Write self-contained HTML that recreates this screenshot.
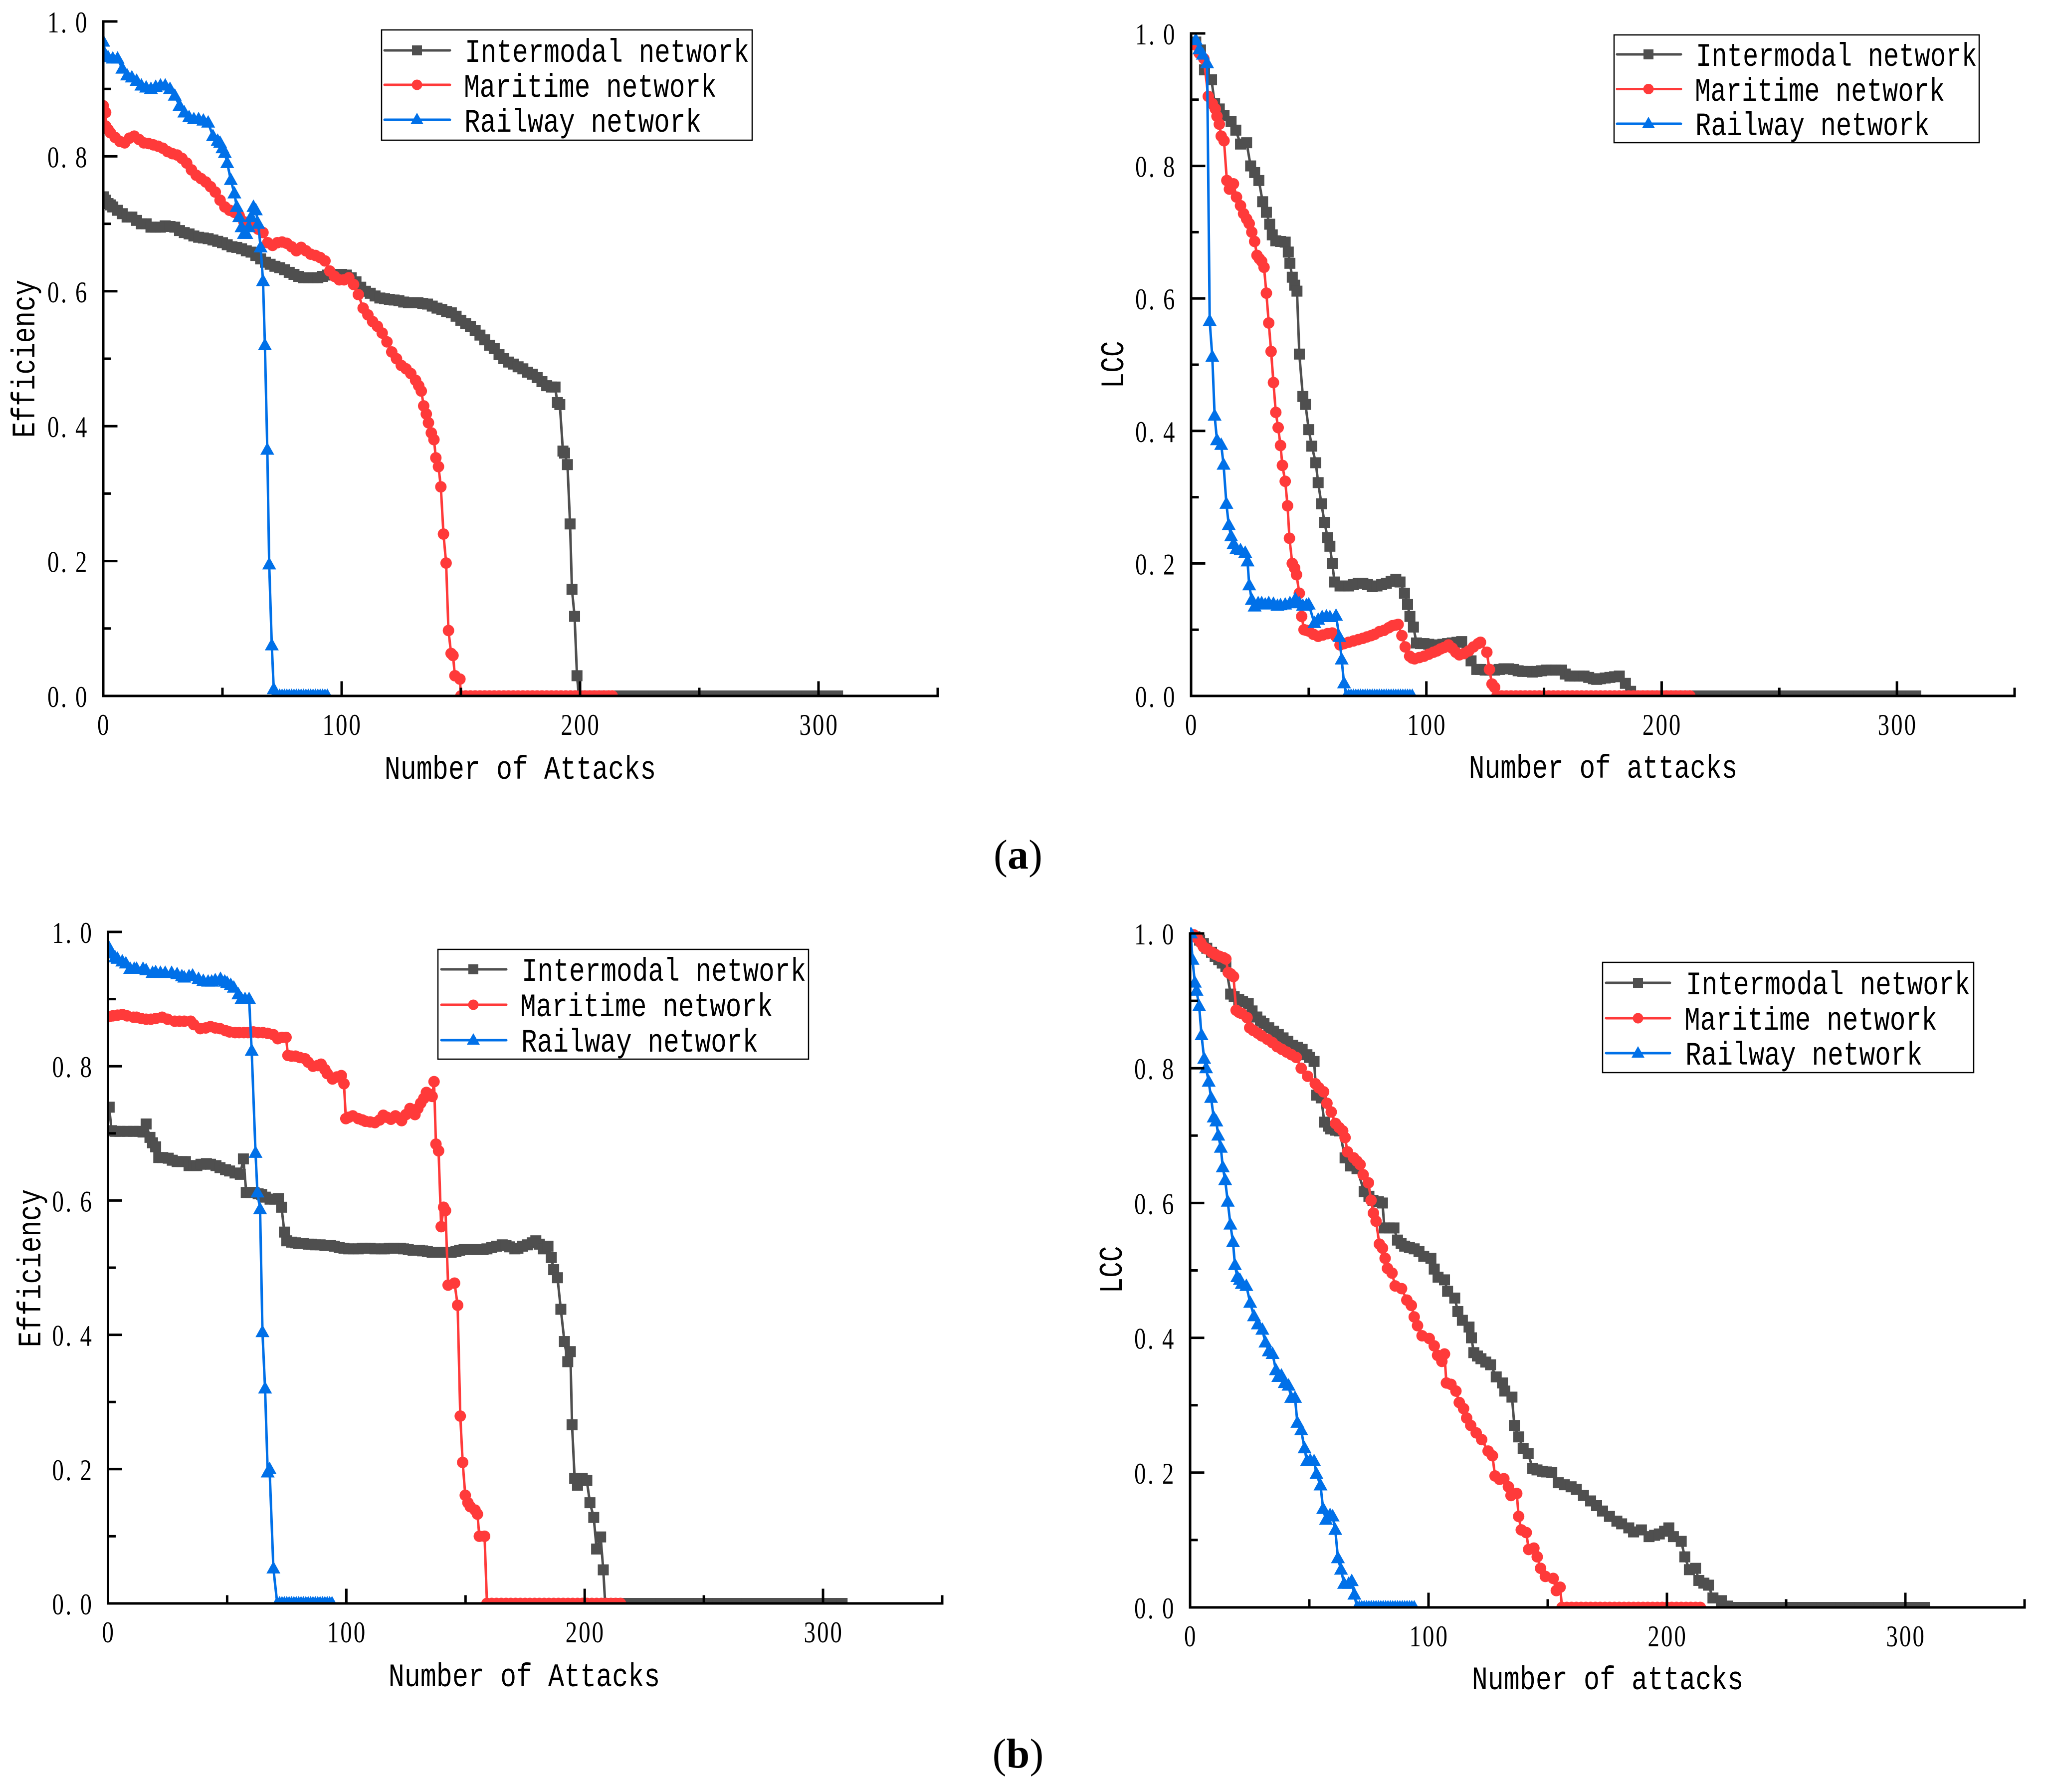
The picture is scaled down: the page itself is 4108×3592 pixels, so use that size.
<!DOCTYPE html>
<html lang="en">
<head>
<meta charset="utf-8">
<title>Network robustness under attack</title>
<style>
html,body{margin:0;padding:0;background:#fff;}
svg{display:block;}
.mono{font-family:"Liberation Mono",monospace;font-size:60px;fill:#000;}
.serif{font-family:"Liberation Serif",serif;font-size:60px;fill:#000;}
.cap{font-family:"Liberation Serif",serif;font-size:84px;fill:#000;}
</style>
</head>
<body>
<svg id="figure" xmlns="http://www.w3.org/2000/svg" width="4108" height="3592" viewBox="0 0 4108 3592">
<rect x="0" y="0" width="4108" height="3592" fill="#fff"/>

<g id="panel-a1">
<text class="mono" text-anchor="middle" transform="translate(1043,1561) scale(.89,1.1)">Number of Attacks</text>
<text class="mono" text-anchor="middle" transform="translate(69,719) rotate(-90) scale(.88,1.1)">Efficiency</text>
</g>
<g id="panel-a2">
<text class="mono" text-anchor="middle" transform="translate(3214,1559) scale(.88,1.1)">Number of attacks</text>
<text class="mono" text-anchor="middle" transform="translate(2252,731) rotate(-90) scale(.88,1.1)">LCC</text>
</g>
<g id="panel-b1">
<text class="mono" text-anchor="middle" transform="translate(1051,3380) scale(.89,1.1)">Number of Attacks</text>
<text class="mono" text-anchor="middle" transform="translate(81,2542) rotate(-90) scale(.88,1.1)">Efficiency</text>
</g>
<g id="panel-b2">
<text class="mono" text-anchor="middle" transform="translate(3223,3386) scale(.89,1.1)">Number of attacks</text>
<text class="mono" text-anchor="middle" transform="translate(2249,2545) rotate(-90) scale(.88,1.1)">LCC</text>
</g>

<!-- Legend A-left -->
<g>
<rect x="765" y="60" width="743" height="221" fill="#fff" stroke="#000" stroke-width="2.5"/>
<g><line x1="771" y1="101" x2="902" y2="101" stroke="#4f4f4f" stroke-width="5" stroke-linecap="round"/><rect x="826" y="91" width="20" height="20" fill="#4f4f4f"/><text class="mono" transform="translate(932,124) scale(.88,1.1)">Intermodal network</text></g>
<g><line x1="771" y1="170" x2="902" y2="170" stroke="#ff3a3a" stroke-width="5" stroke-linecap="round"/><circle cx="836" cy="170" r="10.5" fill="#ff3a3a"/><text class="mono" transform="translate(930,194) scale(.88,1.1)">Maritime network</text></g>
<g><line x1="771" y1="240" x2="902" y2="240" stroke="#0070e8" stroke-width="5" stroke-linecap="round"/><polygon points="836,226 849,249 823,249" fill="#0070e8"/><text class="mono" transform="translate(931,264) scale(.88,1.1)">Railway network</text></g>
</g>
<!-- Legend A-right -->
<g>
<rect x="3236" y="70" width="732" height="216" fill="#fff" stroke="#000" stroke-width="2.5"/>
<g><line x1="3242" y1="109" x2="3370" y2="109" stroke="#4f4f4f" stroke-width="5" stroke-linecap="round"/><rect x="3295" y="99" width="20" height="20" fill="#4f4f4f"/><text class="mono" transform="translate(3400,132) scale(.87,1.1)">Intermodal network</text></g>
<g><line x1="3242" y1="178.500" x2="3370" y2="178.500" stroke="#ff3a3a" stroke-width="5" stroke-linecap="round"/><circle cx="3305" cy="178.500" r="10.5" fill="#ff3a3a"/><text class="mono" transform="translate(3398,202) scale(.87,1.1)">Maritime network</text></g>
<g><line x1="3242" y1="248" x2="3370" y2="248" stroke="#0070e8" stroke-width="5" stroke-linecap="round"/><polygon points="3305,234 3318,257 3292,257" fill="#0070e8"/><text class="mono" transform="translate(3399,271) scale(.87,1.1)">Railway network</text></g>
</g>
<!-- Legend B-left -->
<g>
<rect x="878" y="1903" width="743" height="220" fill="#fff" stroke="#000" stroke-width="2.5"/>
<g><line x1="885" y1="1943" x2="1015" y2="1943" stroke="#4f4f4f" stroke-width="5" stroke-linecap="round"/><rect x="939" y="1933" width="20" height="20" fill="#4f4f4f"/><text class="mono" transform="translate(1046,1966) scale(.88,1.1)">Intermodal network</text></g>
<g><line x1="885" y1="2014" x2="1015" y2="2014" stroke="#ff3a3a" stroke-width="5" stroke-linecap="round"/><circle cx="949" cy="2014" r="10.5" fill="#ff3a3a"/><text class="mono" transform="translate(1043,2037) scale(.88,1.1)">Maritime network</text></g>
<g><line x1="885" y1="2085" x2="1015" y2="2085" stroke="#0070e8" stroke-width="5" stroke-linecap="round"/><polygon points="949,2071 962,2094 936,2094" fill="#0070e8"/><text class="mono" transform="translate(1045,2108) scale(.88,1.1)">Railway network</text></g>
</g>
<!-- Legend B-right -->
<g>
<rect x="3213" y="1929" width="744" height="221" fill="#fff" stroke="#000" stroke-width="2.5"/>
<g><line x1="3220" y1="1970" x2="3348" y2="1970" stroke="#4f4f4f" stroke-width="5" stroke-linecap="round"/><rect x="3274" y="1960" width="20" height="20" fill="#4f4f4f"/><text class="mono" transform="translate(3380,1993) scale(.88,1.1)">Intermodal network</text></g>
<g><line x1="3220" y1="2041" x2="3348" y2="2041" stroke="#ff3a3a" stroke-width="5" stroke-linecap="round"/><circle cx="3284" cy="2041" r="10.5" fill="#ff3a3a"/><text class="mono" transform="translate(3377,2064) scale(.88,1.1)">Maritime network</text></g>
<g><line x1="3220" y1="2111" x2="3348" y2="2111" stroke="#0070e8" stroke-width="5" stroke-linecap="round"/><polygon points="3284,2097 3297,2120 3271,2120" fill="#0070e8"/><text class="mono" transform="translate(3379,2134) scale(.88,1.1)">Railway network</text></g>
</g>

<text class="cap" text-anchor="middle" x="2041" y="1741">(<tspan font-weight="bold">a</tspan>)</text>
<text class="cap" text-anchor="middle" x="2041" y="3543">(<tspan font-weight="bold">b</tspan>)</text>
</svg>

<script>
// Axis tick values
const xMajorTicks = [0, 100, 200, 300];
const xMinorTicks = [50, 150, 250, 350];
const yMajorTicks = [0, 0.2, 0.4, 0.6, 0.8, 1.0];
const yMinorTicks = [0.1, 0.3, 0.5, 0.7, 0.9];

// Panel (a) Efficiency
const a1IntermodalX = [0,1,2,3,4,6,8,10,12,14,
16,18,20,22,24,26,28,30,32,34,
36,38,40,42,44,46,48,50,52,54,
56,58,60,62,64,66,68,70,72,74,
76,78,80,82,84,86,88,90,92,94,
96,98,100,102,104,106,108,110,112,114,
116,118,120,122,124,126,128,130,132,134,
136,138,140,142,144,146,148,150,152,154,
156,158,160,162,164,166,168,170,172,174,
176,178,180,182,184,186,188,189.5,190.5,191.5,
192.8,193.5,194.7,195.8,196.6,197.7,198.7,199.5];
const a1IntermodalY = [.74,.735,.73,.728,.725,.72,.715,.71,.71,.705,
.70,.70,.695,.695,.695,.697,.696,.695,.69,.687,
.685,.682,.68,.679,.678,.676,.674,.672,.669,.666,
.665,.663,.66,.658,.653,.648,.643,.64,.637,.635,
.632,.628,.625,.622,.62,.62,.62,.62,.622,.624,
.625,.625,.625,.624,.62,.614,.606,.60,.597,.593,
.59,.589,.588,.587,.586,.584,.583,.583,.583,.582,
.581,.578,.575,.573,.57,.568,.563,.557,.552,.548,
.542,.535,.528,.52,.515,.506,.50,.495,.492,.488,
.485,.48,.477,.472,.466,.46,.458,.458,.435,.432,
.363,.36,.343,.255,.158,.118,.03,0];
const a1IntermodalZeroX = [203,207,211,215,219,223,227,231,235,239,243,247,251,255,259,263,267,271,275,279,283,287,291,295,299,303,306,308];

const a1MaritimeX = [0,1,1,2,3,5,7,9,11,13,
15,17,19,21,23,25,27,29,31,33,
35,37,39,41,43,45,47,49,51,53,
55,57,59,61,63,65,67,69,71,73,
75,77,79,81,83,85,87,89,91,93,
95,97,99,101,103,105,107,109,111,113,
115,117,119,121,123,125,127,129,131,132.3,
133.4,134.4,135.5,136.4,137.6,138.7,139.5,140.6,141.6,142.7,
143.8,144.8,145.9,146.7,147.5,149.6];
const a1MaritimeY = [.875,.865,.845,.84,.835,.828,.822,.82,.827,.83,
.825,.82,.819,.817,.815,.812,.807,.804,.802,.797,
.79,.78,.772,.767,.762,.755,.747,.735,.725,.72,
.717,.712,.703,.70,.697,.692,.687,.672,.668,.672,
.673,.671,.666,.66,.665,.66,.655,.653,.65,.645,
.63,.622,.617,.617,.62,.61,.595,.575,.565,.555,
.548,.538,.525,.51,.50,.49,.485,.478,.468,.46,
.452,.43,.418,.405,.39,.38,.353,.34,.31,.24,
.197,.097,.063,.06,.03,.025];
const a1MaritimeZeroX = [150,152,154,156,158,160,162,164,166,168,170,172,174,176,178,180,182,184,186,188,190,192,194,196,198,200,202,204,206,208,210,212,213.5];

const a1RailwayX = [0,1,2,4,6,8,10,12,14,16,
18,20,22,24,26,28,30,32,34,36,
38,40,42,44,46,48,49,50,51,52,
53.5,55,56,57,58,59,60,61,62,63,
64,65,66,67,67.8,68.8,69.6,70.7,71.5];
const a1RailwayY = [.97,.95,.947,.945,.945,.93,.92,.917,.912,.905,
.902,.90,.903,.905,.905,.90,.89,.875,.865,.858,
.855,.855,.853,.85,.83,.823,.82,.812,.805,.79,
.765,.745,.725,.71,.695,.685,.685,.695,.71,.725,
.72,.70,.665,.615,.52,.365,.195,.075,.01];
const a1RailwayZeroX = [72,73,74,75,76,77,78,79,80,81,82,83,84,85,86,87,88,89,90,91,92,93,94];

// Panel (a) LCC
const a2IntermodalX = [2,4,5.7,8.7,10,12,14,17,19,21,
23.6,25.3,27,28.8,30.4,32,33.4,34.5,36,38,
40,41.3,42,43,44,45,46,47.5,48.6,50,
51.3,53,54,55.4,56.7,58,59,60,61,
63.3,65,67,69,71,73,75,77,79,81,
83,85,87,88.8,90.7,92,93,94.5,95.8,97.5,
99,101,103,105,107,109,111,113,115,117.3,
119,121.4,123,125,127,129,131,133,135,137,
139,141,143,145,147,149,151,153,155,157.5,
159,161,163,165,167,169,171,172.4,174,176,
178,180,182,184.6,186.8];
const a2IntermodalY = [.987,.975,.945,.93,.894,.886,.876,.867,.854,.833,
.835,.80,.79,.778,.746,.73,.712,.696,.687,.686,
.685,.67,.653,.632,.62,.611,.516,.452,.44,.402,
.377,.352,.322,.29,.262,.239,.226,.20,.172,
.166,.166,.166,.168,.17,.17,.168,.165,.166,.168,
.17,.173,.176,.172,.155,.138,.12,.104,.08,.079,
.079,.078,.077,.077,.078,.079,.08,.081,.082,.066,
.053,.04,.04,.039,.039,.039,.04,.041,.041,.04,
.038,.037,.037,.036,.037,.038,.039,.039,.039,.039,
.033,.03,.03,.03,.03,.028,.026,.025,.026,.027,
.028,.029,.03,.019,.007];
const a2IntermodalZeroX = [188,192,196,200,204,208,212,216,220,224,228,232,236,240,244,248,252,256,260,264,268,272,276,280,284,288,292,296,300,304,306,308];

const a2MaritimeX = [1.4,3.5,5.4,7.3,9,10.3,11,12,12.8,14,
15.2,16.3,18,19.3,21,22.3,23.6,24.7,25.8,27,
28,29,30,31,32,33,34,35,36,37,
38,38.8,40,41,41.8,43,44,44.8,46,47,
48,49,50,52,54,56,58,60,61.5,63.3,
65,67,69,71,73,74.7,76.5,78,80,82,
84,85.5,87,88,89.6,91,92.9,94,95,97,
99,101,103,104.5,106,107.5,109.4,111,112.5,114,
116,118,120,122,123,125.7,126.8,127.9,129];
const a2MaritimeY = [.983,.97,.962,.905,.894,.886,.875,.863,.845,.838,
.778,.765,.773,.753,.74,.728,.72,.713,.70,.686,
.665,.66,.656,.647,.608,.563,.52,.473,.428,.405,
.378,.348,.324,.287,.238,.20,.193,.183,.155,.12,
.10,.099,.098,.093,.09,.092,.094,.095,.09,.077,
.079,.081,.083,.085,.087,.089,.091,.093,.097,.099,
.103,.106,.107,.108,.091,.074,.06,.057,.056,.058,
.06,.063,.066,.068,.071,.073,.077,.072,.066,.062,
.064,.068,.074,.079,.081,.066,.04,.018,.013];
const a2MaritimeZeroX = [130,132,134,136,138,140,142,144,146,148,150,152,154,156,158,160,162,164,166,168,170,172,174,176,178,180,182,184,186,188,190,192,194,196,198,200,202,204,206,208,210,212];

const a2RailwayX = [2,3.5,5,6.8,7.9,9,10,11,12.8,13.8,
15,16,17,18,19.3,21,23,24,24.7,25.8,
27,28.5,30,31.5,33,35,36.7,38,40,42,
44.3,46,47.5,49,50,52.4,54,55.7,57.5,59,
61.6,63,64,65];
const a2RailwayY = [.99,.976,.968,.955,.566,.512,.423,.386,.379,.349,
.29,.258,.241,.229,.222,.22,.216,.203,.167,.145,
.135,.14,.14,.138,.14,.139,.136,.137,.138,.14,
.146,.14,.136,.137,.138,.11,.115,.119,.12,.119,
.121,.089,.055,.019];
const a2RailwayZeroX = [66,67,68,69,70,71,72,73,74,75,76,77,78,79,80,81,82,83,84,85,86,87,88,89,90,91,92,93,94];

// Panel (b) Efficiency
const b1IntermodalX = [.5,1.5,3,5,8,10.7,13,14.7,16,17.6,
18.7,20,21.3,23,25.3,27,29,31,32.5,34,
36,37.3,39,41.3,43,45.3,47,49.3,51,53.3,
55.5,56.8,58,60,61.3,63,64.5,66,68,70,
71.5,72.8,74,75,77,78.7,80,82,84,85.4,
87,89,91,93.4,95,97,99,101,103,105,
106.7,108,110,112,114.7,116,118,120,122.7,124,
126,128,130.7,132,134,136,138.7,140,142,144,
146,147.5,149.4,151,153,155,157.4,159,161,163,
165.4,167,168.5,170.7,172,174,176,178,179.5,181,
182.7,184.6,186,187,188.6,190,191.5,192.9,194,194.7,
195.8,197,199,200.9,202.2,203.8,205,206.7,207.8];
const b1IntermodalY = [.739,.704,.703,.703,.703,.703,.703,.702,.714,.694,
.686,.68,.664,.664,.663,.66,.658,.658,.658,.652,
.652,.652,.654,.655,.654,.652,.649,.646,.644,.641,
.639,.662,.612,.612,.612,.61,.609,.605,.602,.602,
.603,.59,.553,.54,.538,.537,.536,.536,.535,.535,
.534,.534,.533,.533,.532,.53,.529,.528,.528,.528,
.529,.529,.529,.528,.528,.528,.529,.529,.529,.528,
.527,.526,.526,.525,.524,.523,.523,.523,.523,.523,
.524,.526,.527,.527,.527,.527,.527,.528,.53,.532,
.534,.533,.531,.528,.529,.532,.534,.537,.54,.535,
.528,.532,.515,.497,.485,.438,.39,.36,.375,.266,
.186,.176,.186,.183,.15,.128,.081,.099,.05];
const b1IntermodalZeroX = [208.6,212,216,220,224,228,232,236,240,244,248,252,256,260,264,268,272,276,280,284,288,292,296,300,304,306,308];

const b1MaritimeX = [.5,2,4,6,8,10.7,12,14,16,18,
20,22.7,25,28,30,32,34.7,36,38.7,41,
43,45,47,49.3,51,53.3,55,57,58.7,61,
63,65,67,69.4,71.2,73,74.7,75.5,77,78.7,
80.5,82.7,84,86,88,89.4,91,92,94.2,96,
97.9,99,99.8,101,102.7,105,106.7,108,110,112,
114,115.5,117,118.7,120.6,122,123.2,125,126.7,128.8,
130,131.2,132.5,133.6,135,136,136.8,137.6,138.7,139.8,
140.8,141.6,142.7,145.4,146.7,147.8,148.8,149.9,151,152,
154,155,155.8,158];
const b1MaritimeY = [.874,.875,.876,.877,.875,.873,.873,.871,.87,.87,
.871,.873,.87,.867,.867,.867,.867,.862,.856,.857,
.859,.857,.856,.853,.851,.85,.85,.85,.85,.851,
.85,.85,.849,.847,.841,.843,.843,.816,.815,.815,
.813,.811,.806,.80,.801,.803,.795,.789,.781,.784,
.786,.774,.722,.724,.726,.722,.72,.718,.717,.716,
.72,.727,.724,.721,.726,.723,.719,.728,.737,.728,
.737,.745,.752,.761,.758,.755,.777,.684,.674,.561,
.59,.585,.474,.477,.444,.279,.21,.161,.15,.144,
.139,.133,.10,.10];
const b1MaritimeZeroX = [159,161,163,165,167,169,171,173,175,177,179,181,183,185,187,189,191,193,195,197,199,201,203,205,207,209,211,213,215];

const b1RailwayX = [.5,1.6,3,4,6,7.5,9.3,11,12,14.7,
16,18.7,20,22,24,26.7,29,31,32,34,
35.5,38,40,42,43.5,45,47.2,49,50,51.5,
52.8,54.7,56,57.5,59.2,60.3,61.9,62.7,63.8,64.8,
65.9,67,67.8,69.4];
const b1RailwayY = [.976,.968,.962,.96,.956,.953,.945,.945,.945,.945,
.943,.939,.94,.939,.939,.939,.937,.934,.932,.934,
.935,.93,.927,.926,.926,.928,.93,.926,.924,.921,
.917,.907,.90,.90,.90,.823,.671,.612,.587,.404,
.32,.195,.20,.052];
const b1RailwayZeroX = [71,72,73,74,75,76,77,78,79,80,81,82,83,84,85,86,87,88,89,90,91,92,93,94];

// Panel (b) LCC
const b2IntermodalX = [2,4,5.6,7,9,10.5,12,13.5,15,17,
18.5,20.4,22,24.4,26,28,29.5,31,33,35,
37,39,41,43,45,47,49,50,52,53,
55,56.3,58,59,61,62.7,65,67.3,70,73,
75,76.7,79,80.7,81.5,83.5,85.5,87,88.5,90,
92,94,96,98,101,102.4,104,106.7,108,111,
112.3,114.2,117,118,119,120.5,122,124,126,128.4,
131,132,135,136,137.8,139.7,141.8,143.7,145.5,147.7,
149.5,151.7,154.4,157,159.8,162,165,168,170.5,173,
175.9,179,181,184,186,189.3,192.5,194.8,196.8,199,
200.8,202.7,206,207.5,209.4,212,213.4,215.5,217.4,219.3,
222.8,225.5];
const b2IntermodalY = [.995,.99,.985,.978,.972,.966,.961,.956,.951,.91,
.906,.902,.899,.896,.885,.876,.87,.866,.86,.855,
.85,.845,.84,.834,.831,.828,.82,.816,.81,.76,
.756,.72,.714,.71,.708,.707,.667,.655,.651,.617,
.61,.604,.602,.60,.563,.563,.563,.545,.54,.536,
.534,.532,.528,.521,.518,.502,.49,.486,.469,.459,
.439,.426,.416,.40,.378,.373,.369,.364,.36,.342,
.333,.321,.312,.27,.253,.236,.228,.206,.204,.202,
.201,.20,.185,.182,.179,.175,.166,.158,.151,.143,
.135,.128,.124,.118,.112,.115,.105,.107,.109,.113,
.118,.105,.098,.075,.056,.058,.04,.036,.033,.014,
.01,.002];
const b2IntermodalZeroX = [229,233,237,241,245,249,253,257,261,265,269,273,277,281,285,289,293,297,301,305,308];

const b2MaritimeX = [1.5,3,4.5,5.6,7,9,10.5,12.3,14,15,
16,17,18.2,19.3,20.5,21.7,23.9,25,26.5,28.4,
30,32.4,34.5,36.5,38.5,40.5,42.5,44.5,46.6,49.3,
52.5,54,56,57.4,59.2,61,62.5,64,65,66,
68.6,70,71.3,72.6,74.8,75.9,76.9,78,79.4,80.7,
81.8,82.8,84.7,86,88.7,90.9,92.8,94,95.4,97.3,
100.3,102.4,103.8,105.6,106.7,107.5,109.4,111.5,112.9,114.7,
116,117.7,120,122.3,125,126.8,127.9,129.8,131.6,133.5,
134.6,137,137.8,138.9,141,142,144.2,145.6,147,149,
152.3,153.6,155.2];
const b2MaritimeY = [.998,.993,.986,.98,.977,.972,.969,.966,.964,.962,
.942,.94,.936,.886,.883,.881,.875,.86,.856,.852,
.848,.843,.838,.832,.828,.824,.82,.816,.80,.788,
.777,.771,.765,.748,.735,.718,.712,.707,.697,.676,
.667,.662,.657,.642,.63,.604,.585,.573,.539,.533,
.518,.503,.496,.477,.473,.456,.448,.431,.418,.403,
.399,.388,.374,.365,.376,.333,.331,.321,.304,.295,
.281,.27,.259,.249,.232,.225,.195,.19,.191,.179,
.166,.169,.135,.115,.111,.086,.088,.075,.058,.046,
.043,.025,.03];
const b2MaritimeZeroX = [156,158,160,162,164,166,168,170,172,174,176,178,180,182,184,186,188,190,192,194,196,198,200,202,204,206,208,210,212,214];

const b2RailwayX = [.3,1,2,2.7,3.8,4.8,5.9,6.7,7.8,8.8,
9.9,11,11.8,12.9,13.7,14.7,15.8,16.9,18,18.8,
19.8,20.9,21.7,23.6,25.2,26.8,28.4,30.3,31.6,33,
34.6,36,37,38.3,39.7,41.3,42.4,44,45,46.6,
48,49,50.4,52,53,54.7,55.8,57,58.7,59.8,
60.9,62,63.3,64.6,66.5,67.8,68.9];
const b2RailwayY = [1,.961,.927,.915,.892,.849,.814,.80,.78,.756,
.727,.721,.70,.682,.653,.634,.602,.568,.542,.508,
.49,.486,.48,.477,.452,.432,.42,.412,.393,.38,
.376,.352,.342,.344,.333,.329,.311,.311,.274,.263,
.236,.217,.218,.217,.198,.181,.146,.13,.137,.135,
.115,.073,.056,.035,.035,.039,.019];
const b2RailwayZeroX = [70,71,72,73,74,75,76,77,78,79,80,81,82,83,84,85,86,87,88,89,90,91,92,93,94];

const NS = 'http://www.w3.org/2000/svg';
const COLORS = {intermodal:'#4f4f4f', maritime:'#ff3a3a', railway:'#0070e8'};

function make(tag, parent) {
  const node = document.createElementNS(NS, tag);
  parent.appendChild(node);
  return node;
}

function drawSeries(plot, name, xs, ys, zeroXs, scaleX, scaleY) {
  const color = COLORS[name];
  const group = make('g', plot);
  
  
  const pts = [];
  const n = Math.min(xs.length, ys.length);
  for (let i = 0; i < n; i++) pts.push([scaleX(xs[i]), scaleY(ys[i])]);
  zeroXs.forEach(function (v) { pts.push([scaleX(v), scaleY(0)]); });
  const line = make('polyline', group);
  
  
  line.setAttribute('points', pts.map(function (p) { return p[0].toFixed(1) + ',' + p[1].toFixed(1); }).join(' '));
  line.setAttribute('fill', 'none');
  line.setAttribute('stroke', color);
  line.setAttribute('stroke-width', '5');
  line.setAttribute('stroke-linejoin', 'round');
  pts.forEach(function (p) {
    let m;
    if (name === 'intermodal') {
      m = make('rect', group);
      m.setAttribute('x', p[0] - 11);
      m.setAttribute('y', p[1] - 11);
      m.setAttribute('width', 22);
      m.setAttribute('height', 22);
    } else if (name === 'maritime') {
      m = make('circle', group);
      m.setAttribute('cx', p[0]);
      m.setAttribute('cy', p[1]);
      m.setAttribute('r', 11.5);
    } else {
      m = make('polygon', group);
      m.setAttribute('points', p[0] + ',' + (p[1] - 15) + ' ' + (p[0] + 14) + ',' + (p[1] + 10) + ' ' + (p[0] - 14) + ',' + (p[1] + 10));
    }
    m.setAttribute('fill', color);
    
    
  });
}

// Tick digits sit in fixed-width cells, as in the original's half-width font.
function charCells(str) {
  if (str.indexOf('.') >= 0) return [0, 27, 56];
  const cells = [];
  for (let i = 0; i < str.length; i++) cells.push(i * 26.5);
  return cells;
}

function drawTickLabel(axis, str, left, y) {
  const t = make('text', axis);
  
  
  t.setAttribute('class', 'serif');
  t.setAttribute('transform', 'translate(' + left + ',' + y + ') scale(.78,1)');
  t.setAttribute('x', charCells(str).map(function (c) { return (c / 0.78).toFixed(1); }).join(' '));
  t.setAttribute('y', 0);
  t.textContent = str;
}

function drawPanel(id, box, series) {
  const panel = document.getElementById(id);
  const scaleX = function (v) { return box.x0 + (v / 350) * (box.x350 - box.x0); };
  const scaleY = function (v) { return box.y0 + v * (box.y1 - box.y0); };

  const clip = make('clipPath', panel);
  clip.setAttribute('id', id + '-clip');
  const clipRect = make('rect', clip);
  clipRect.setAttribute('x', box.x0);
  clipRect.setAttribute('y', box.y1 - 12);
  clipRect.setAttribute('width', box.x350 - box.x0);
  clipRect.setAttribute('height', box.y0 - box.y1 + 12);

  const plot = make('g', panel);
  
  
  plot.setAttribute('clip-path', 'url(#' + id + '-clip)');
  series.forEach(function (s) {
    drawSeries(plot, s[0], s[1], s[2], s[3], scaleX, scaleY);
  });

  const axis = make('g', panel);
  
  
  const path = [];
  path.push('M' + box.x0 + ' ' + box.y1 + 'V' + box.y0 + 'H' + box.x350);
  xMajorTicks.forEach(function (v) {
    const label = String(v);
    const cells = charCells(label);
    const width = cells[cells.length - 1] + 24;
    path.push('M' + scaleX(v) + ' ' + box.y0 + 'v-27');
    drawTickLabel(axis, label, scaleX(v) - width / 2, box.y0 + 78);
  });
  xMinorTicks.forEach(function (v) {
    path.push('M' + scaleX(v) + ' ' + box.y0 + 'v-14');
  });
  yMajorTicks.forEach(function (v) {
    path.push('M' + box.x0 + ' ' + scaleY(v) + 'h26');
    drawTickLabel(axis, v.toFixed(1), box.x0 - 31 - 81, scaleY(v) + 22);
  });
  yMinorTicks.forEach(function (v) {
    path.push('M' + box.x0 + ' ' + scaleY(v) + 'h13');
  });
  const axisLines = make('path', axis);
  
  
  axisLines.setAttribute('d', path.join(''));
  axisLines.setAttribute('fill', 'none');
  axisLines.setAttribute('stroke', '#000');
  axisLines.setAttribute('stroke-width', '5');
  axisLines.setAttribute('stroke-linecap', 'square');
}

drawPanel('panel-a1', {x0:207, x350:1880, y0:1395, y1:43}, [
  ['intermodal', a1IntermodalX, a1IntermodalY, a1IntermodalZeroX],
  ['maritime', a1MaritimeX, a1MaritimeY, a1MaritimeZeroX],
  ['railway', a1RailwayX, a1RailwayY, a1RailwayZeroX]
]);
drawPanel('panel-a2', {x0:2388, x350:4039, y0:1395, y1:67}, [
  ['intermodal', a2IntermodalX, a2IntermodalY, a2IntermodalZeroX],
  ['maritime', a2MaritimeX, a2MaritimeY, a2MaritimeZeroX],
  ['railway', a2RailwayX, a2RailwayY, a2RailwayZeroX]
]);
drawPanel('panel-b1', {x0:216.5, x350:1889, y0:3214, y1:1868}, [
  ['intermodal', b1IntermodalX, b1IntermodalY, b1IntermodalZeroX],
  ['maritime', b1MaritimeX, b1MaritimeY, b1MaritimeZeroX],
  ['railway', b1RailwayX, b1RailwayY, b1RailwayZeroX]
]);
drawPanel('panel-b2', {x0:2386, x350:4059, y0:3222, y1:1871}, [
  ['intermodal', b2IntermodalX, b2IntermodalY, b2IntermodalZeroX],
  ['maritime', b2MaritimeX, b2MaritimeY, b2MaritimeZeroX],
  ['railway', b2RailwayX, b2RailwayY, b2RailwayZeroX]
]);
</script>
</body>
</html>
